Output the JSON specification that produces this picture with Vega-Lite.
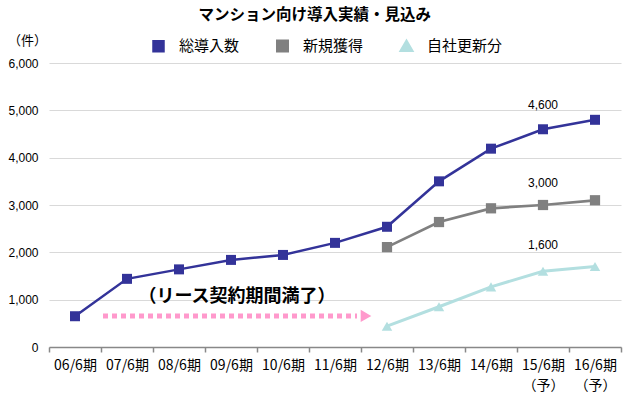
{
  "$schema": "https://vega.github.io/schema/vega-lite/v6.json",
  "width": 572,
  "height": 284,
  "autosize": "none",
  "padding": {"left": 49, "top": 63, "right": 9, "bottom": 50},
  "background": "white",
  "config": {
    "font": "Noto Sans CJK JP",
    "view": {"stroke": null}
  },
  "title": {
    "text": "マンション向け導入実績・見込み",
    "fontSize": 15.5,
    "fontWeight": "bold",
    "color": "#000000",
    "anchor": "middle",
    "frame": "bounds",
    "offset": 11
  },
  "datasets": {
    "main": [
      {"period": "06/6期", "series": "総導入数", "value": 650},
      {"period": "07/6期", "series": "総導入数", "value": 1440},
      {"period": "08/6期", "series": "総導入数", "value": 1640},
      {"period": "09/6期", "series": "総導入数", "value": 1840},
      {"period": "10/6期", "series": "総導入数", "value": 1945},
      {"period": "11/6期", "series": "総導入数", "value": 2200},
      {"period": "12/6期", "series": "総導入数", "value": 2540},
      {"period": "13/6期", "series": "総導入数", "value": 3500},
      {"period": "14/6期", "series": "総導入数", "value": 4190},
      {"period": "15/6期", "series": "総導入数", "value": 4600},
      {"period": "16/6期", "series": "総導入数", "value": 4800},
      {"period": "12/6期", "series": "新規獲得", "value": 2110},
      {"period": "13/6期", "series": "新規獲得", "value": 2640},
      {"period": "14/6期", "series": "新規獲得", "value": 2930},
      {"period": "15/6期", "series": "新規獲得", "value": 3000},
      {"period": "16/6期", "series": "新規獲得", "value": 3100},
      {"period": "12/6期", "series": "自社更新分", "value": 440},
      {"period": "13/6期", "series": "自社更新分", "value": 850},
      {"period": "14/6期", "series": "自社更新分", "value": 1270},
      {"period": "15/6期", "series": "自社更新分", "value": 1600},
      {"period": "16/6期", "series": "自社更新分", "value": 1700}
    ],
    "labels": [
      {"period": "15/6期", "value": 5110, "text": "4,600"},
      {"period": "15/6期", "value": 3470, "text": "3,000"},
      {"period": "15/6期", "value": 2160, "text": "1,600"}
    ],
    "arrow": [
      {"start": "07/6期", "end": "12/6期", "value": 655}
    ],
    "note": [
      {"period": "09/6期", "value": 1050, "text": "（リース契約期間満了）"}
    ]
  },
  "encoding": {
    "x": {
      "field": "period",
      "type": "nominal",
      "sort": ["06/6期","07/6期","08/6期","09/6期","10/6期","11/6期","12/6期","13/6期","14/6期","15/6期","16/6期"],
      "scale": {"domain": ["06/6期","07/6期","08/6期","09/6期","10/6期","11/6期","12/6期","13/6期","14/6期","15/6期","16/6期"], "paddingInner": 0, "paddingOuter": 0},
      "axis": {
        "title": null,
        "labelAngle": 0,
        "labelFontSize": 14,
        "labelColor": "#000000",
        "labelPadding": 6,
        "labelLineHeight": 20,
        "labelExpr": "(datum.value == '15/6期' || datum.value == '16/6期') ? [datum.value, '（予）'] : datum.value",
        "domainColor": "#888888",
        "domainWidth": 1.5,
        "tickColor": "#888888",
        "tickWidth": 1.5,
        "tickSize": 5,
        "tickBand": "extent",
        "grid": false
      }
    },
    "y": {
      "field": "value",
      "type": "quantitative",
      "scale": {"domain": [0, 6000]},
      "axis": {
        "values": [0, 1000, 2000, 3000, 4000, 5000, 6000],
        "format": ",d",
        "labelFont": "Liberation Sans",
        "labelFontSize": 12,
        "labelColor": "#000000",
        "labelPadding": 11,
        "domain": false,
        "ticks": false,
        "gridColor": "#d9d9d9",
        "gridWidth": 1,
        "title": "（件）",
        "titleAngle": 0,
        "titleFontSize": 13,
        "titleFontWeight": "normal",
        "titleColor": "#000000",
        "titleX": -22,
        "titleY": -16,
        "titleAlign": "center"
      }
    }
  },
  "layer": [
    {
      "data": {"name": "main"},
      "mark": {"type": "line"},
      "encoding": {
        "color": {
          "field": "series",
          "type": "nominal",
          "scale": {"domain": ["総導入数","新規獲得","自社更新分"], "range": ["#333399","#808080","#b3dfe0"]},
          "legend": {
            "title": null,
            "orient": "none",
            "direction": "horizontal",
            "legendX": 102,
            "legendY": -25,
            "labelFontSize": 15,
            "labelColor": "#000000",
            "labelOffset": 13,
            "columnPadding": 31,
            "symbolSize": 400
          }
        },
        "strokeWidth": {
          "field": "series",
          "type": "nominal",
          "scale": {"domain": ["総導入数","新規獲得","自社更新分"], "range": [2.5, 3, 4.5]},
          "legend": null
        }
      }
    },
    {
      "data": {"name": "main"},
      "mark": {"type": "point", "filled": true, "opacity": 1, "strokeWidth": 0},
      "encoding": {
        "fill": {
          "field": "series",
          "type": "nominal",
          "scale": {"domain": ["総導入数","新規獲得","自社更新分"], "range": ["#333399","#808080","#b3dfe0"]},
          "legend": null
        },
        "shape": {
          "field": "series",
          "type": "nominal",
          "scale": {"domain": ["総導入数","新規獲得","自社更新分"], "range": ["square","square","triangle-up"]},
          "legend": null
        },
        "size": {
          "field": "series",
          "type": "nominal",
          "scale": {"domain": ["総導入数","新規獲得","自社更新分"], "range": [100, 110, 170]},
          "legend": null
        }
      }
    },
    {
      "data": {"name": "labels"},
      "mark": {"type": "text", "font": "Liberation Sans", "fontSize": 12, "color": "#000000"},
      "encoding": {
        "text": {"field": "text", "type": "nominal"}
      }
    },
    {
      "data": {"name": "arrow"},
      "mark": {"type": "rule", "color": "#ff99cc", "strokeWidth": 5, "strokeDash": [5, 4], "xOffset": -24, "x2Offset": -30},
      "encoding": {
        "x": {"field": "start", "type": "nominal"},
        "x2": {"field": "end"},
        "y": {"field": "value", "type": "quantitative"}
      }
    },
    {
      "data": {"name": "arrow"},
      "mark": {"type": "point", "shape": "triangle-right", "filled": true, "color": "#ff99cc", "opacity": 1, "size": 150, "xOffset": -21},
      "encoding": {
        "x": {"field": "end", "type": "nominal"},
        "y": {"field": "value", "type": "quantitative"}
      }
    },
    {
      "data": {"name": "note"},
      "mark": {"type": "text", "fontSize": 18, "fontWeight": "bold", "color": "#000000", "dx": 6},
      "encoding": {
        "text": {"field": "text", "type": "nominal"}
      }
    }
  ]
}
